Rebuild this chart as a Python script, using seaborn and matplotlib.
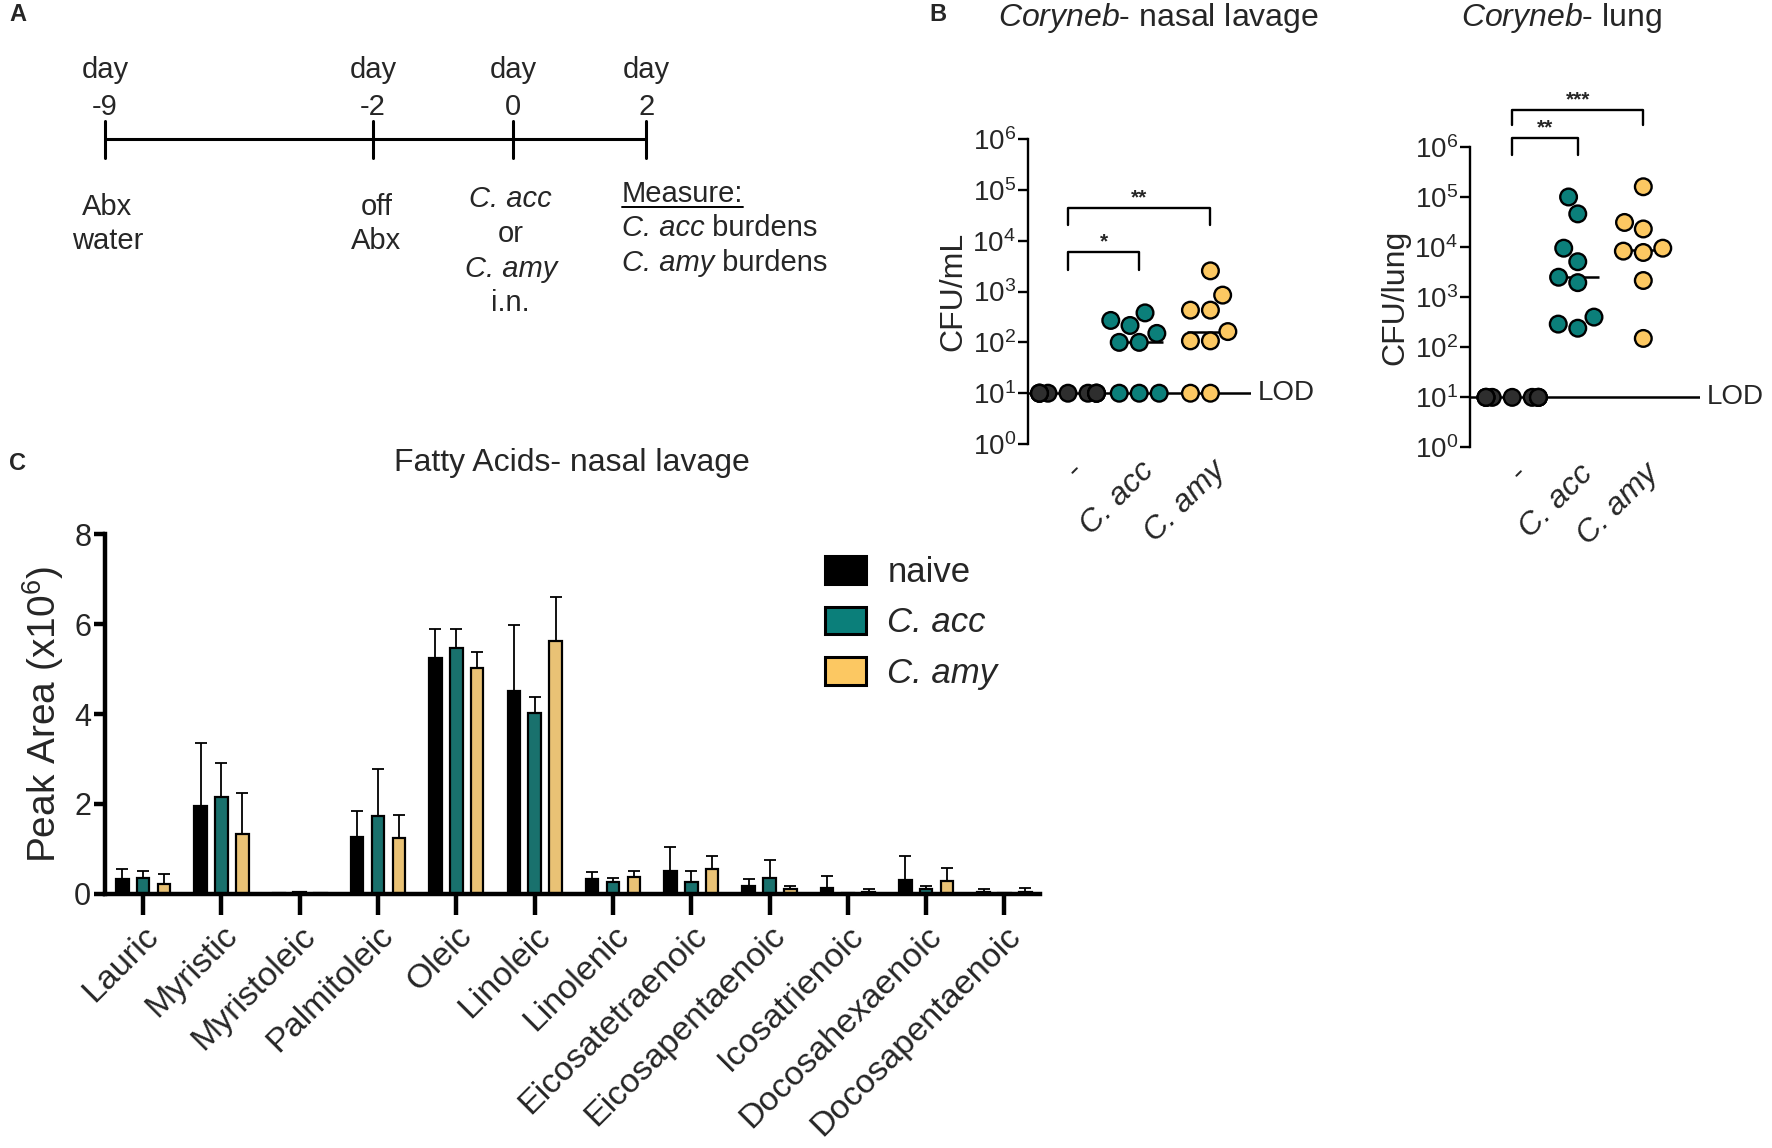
import matplotlib
matplotlib.use("Agg")
import matplotlib.pyplot as plt
import matplotlib.transforms as mtransforms
from matplotlib.patches import Patch
from matplotlib.ticker import LogLocator, NullLocator, FixedLocator
import seaborn as sns
import numpy as np
import pandas as pd

sns.set_theme(style="white")
plt.rcParams['font.family'] = ['Liberation Sans', 'DejaVu Sans']
plt.rcParams['mathtext.fontset'] = 'custom'
plt.rcParams['mathtext.rm'] = 'Liberation Sans'
plt.rcParams['mathtext.it'] = 'Liberation Sans:italic'
plt.rcParams['mathtext.bf'] = 'Liberation Sans:bold'
plt.rcParams['axes.unicode_minus'] = False

TEAL = '#0b7f7a'
GOLD = '#fcc862'
NAIVE_DOT = '#2e2e2e'

# ---- data: timeline (panel A) ----
timeline_days = ['-9', '-2', '0', '2']
timeline_below = [['Abx', 'water'],
                  ['off', 'Abx'],
                  ['C. acc', 'or', 'C. amy', 'i.n.']]
timeline_italic = [[False, False], [False, False], [True, False, True, False]]
measure_species = ['C. acc', 'C. amy']

# ---- data: CFU (panel B) ----
groups = ['naive', 'C. acc', 'C. amy']
group_ticklabels = ['-', 'C. acc', 'C. amy']
nasal_naive = [10, 10, 10, 10, 10, 10, 10, 10, 10]
nasal_acc = [10, 10, 10, 100, 100, 150, 215, 270, 380]
nasal_amy = [10, 10, 107, 107, 163, 430, 430, 850, 2550]
lung_naive = [10, 10, 10, 10, 10, 10, 10, 10, 10]
lung_acc = [240, 290, 400, 1950, 2500, 5100, 9500, 46000, 100000]
lung_amy = [150, 2150, 7800, 8300, 9500, 23000, 31000, 160000]
lod = 10

# ---- data: fatty acids (panel C), peak area x10^6, mean and SD ----
fatty_acids = ['Lauric', 'Myristic', 'Myristoleic', 'Palmitoleic', 'Oleic', 'Linoleic',
               'Linolenic', 'Eicosatetraenoic', 'Eicosapentaenoic', 'Icosatrienoic',
               'Docosahexaenoic', 'Docosapentaenoic']
fa_naive = [0.33, 1.96, 0.02, 1.27, 5.26, 4.51, 0.33, 0.51, 0.18, 0.13, 0.30, 0.03]
fa_naive_sd = [0.23, 1.40, 0.00, 0.57, 0.63, 1.47, 0.16, 0.53, 0.15, 0.26, 0.54, 0.07]
fa_acc = [0.35, 2.16, 0.04, 1.73, 5.48, 4.02, 0.27, 0.27, 0.36, 0.01, 0.10, 0.01]
fa_acc_sd = [0.15, 0.75, 0.00, 1.05, 0.42, 0.36, 0.09, 0.23, 0.40, 0.00, 0.08, 0.00]
fa_amy = [0.22, 1.33, 0.01, 1.24, 5.02, 5.62, 0.37, 0.56, 0.10, 0.05, 0.28, 0.04]
fa_amy_sd = [0.22, 0.91, 0.00, 0.52, 0.37, 0.98, 0.14, 0.29, 0.08, 0.06, 0.29, 0.08]
fa_labels = ['naive', 'C. acc', 'C. amy']

# layout is worked out in a 1568 x 1016 grid, then mapped to the figure
W, H = 1568.0, 1016.0


def box(left, top, right, bottom):
    return [left / W, 1 - bottom / H, (right - left) / W, (bottom - top) / H]


fig = plt.figure(figsize=(17.72, 11.48), dpi=100)
canvas = fig.add_axes([0, 0, 1, 1], zorder=-1)
canvas.set_xlim(0, W)
canvas.set_ylim(H, 0)
canvas.axis('off')

# panel letters
for letter, (px, py) in zip('ABC', [(8, 13), (822, 13), (8, 410)]):
    canvas.text(px, py, letter, fontsize=17, fontweight='bold', ha='left', va='center')

# ---- Panel A: timeline ----
tick_x = [93, 330, 454, 572]
line_y = 123
canvas.plot([tick_x[0], tick_x[-1]], [line_y, line_y], color='black', lw=2.2, solid_capstyle='butt')
for x, d in zip(tick_x, timeline_days):
    canvas.plot([x, x], [line_y - 16, line_y + 17], color='black', lw=2.2)
    canvas.text(x, 62, 'day', ha='center', va='center', fontsize=21)
    canvas.text(x, 95, d, ha='center', va='center', fontsize=21)
below_x = [95, 333, 452]
below_y = [[183, 213], [183, 213], [176, 207, 238, 268]]
for x, lines, ys, its in zip(below_x, timeline_below, below_y, timeline_italic):
    for s, y, it in zip(lines, ys, its):
        canvas.text(x, y, s, ha='center', va='center', fontsize=21,
                    fontstyle='italic' if it else 'normal')
measure_txt = canvas.text(550, 179, 'Measure:', ha='left', va='baseline', fontsize=21)
species_txt = []
for s, y in zip(measure_species, [209, 240]):
    species_txt.append(canvas.text(550, y, s, ha='left', va='baseline', fontsize=21,
                                   fontstyle='italic'))


# ---- Panel B: CFU plots ----
def cfu_panel(rect, values, ylabel, title, title_x, brackets, xlim):
    ax = fig.add_axes(rect)
    df = pd.DataFrame({
        'group': sum([[g] * len(v) for g, v in zip(groups, values)], []),
        'cfu': sum([list(v) for v in values], []),
    })
    ax.set_yscale('log')
    ax.axhline(lod, color='black', lw=1.8, zorder=1)
    sns.swarmplot(data=df, x='group', y='cfu', hue='group', order=groups, hue_order=groups,
                  palette={'naive': NAIVE_DOT, 'C. acc': TEAL, 'C. amy': GOLD},
                  size=12, linewidth=1.7, edgecolor='black', warn_thresh=1,
                  legend=False, zorder=3, ax=ax)
    for i, v in enumerate(values):
        if i > 0:
            ax.hlines(np.median(v), i - 0.33, i + 0.33, color='black', lw=1.8, zorder=2)
    ax.set_ylim(1, 1e6)
    ax.set_xlim(*xlim)
    ax.yaxis.set_major_locator(LogLocator(base=10, numticks=10))
    ax.yaxis.set_minor_locator(NullLocator())
    for sp in ['top', 'right', 'bottom']:
        ax.spines[sp].set_visible(False)
    ax.spines['left'].set_linewidth(1.7)
    ax.spines['left'].set_color('black')
    ax.tick_params(axis='y', direction='out', length=7, width=1.7, color='black',
                   labelsize=20, pad=2, left=True)
    ax.tick_params(axis='x', length=0, labelsize=23, pad=8)
    ax.set_xticks([0, 1, 2])
    ax.set_xticklabels(group_ticklabels, rotation=45, ha='right', va='top', rotation_mode='anchor')
    for t in ax.get_xticklabels()[1:]:
        t.set_fontstyle('italic')
    ax.set_xlabel('')
    ax.set_ylabel(ylabel, fontsize=23, labelpad=3)
    trans = mtransforms.blended_transform_factory(ax.transAxes, ax.transData)
    ax.text(1.03, lod, 'LOD', transform=trans, ha='left', va='center', fontsize=20)
    for x0, x1, top, leg, stars in brackets:
        ax.plot([x0, x0, x1, x1], [10 ** leg, 10 ** top, 10 ** top, 10 ** leg],
                color='black', lw=1.7, clip_on=False)
        ax.text((x0 + x1) / 2, 10 ** (top + 0.08), stars, ha='center', va='baseline',
                fontsize=15, fontweight='bold')
    canvas.text(title_x, 16, title, ha='center', va='center', fontsize=23)
    return ax


cfu_panel(box(910, 123, 1107, 393), [nasal_naive, nasal_acc, nasal_amy], 'CFU/mL',
          r'$\it{Coryneb}$- nasal lavage', 1025,
          [(0, 1, 3.78, 3.43, '*'), (0, 2, 4.65, 4.30, '**')], (-0.556, 2.57))
cfu_panel(box(1301, 130, 1504, 396), [lung_naive, lung_acc, lung_amy], 'CFU/lung',
          r'$\it{Coryneb}$- lung', 1382,
          [(0, 1, 6.18, 5.84, '**'), (0, 2, 6.74, 6.44, '***')], (-0.64, 2.86))

# ---- Panel C: fatty acids ----
axc = fig.add_axes(box(93, 473, 920, 791))
fa_df = pd.DataFrame({
    'acid': fatty_acids * 3,
    'group': [fa_labels[0]] * 12 + [fa_labels[1]] * 12 + [fa_labels[2]] * 12,
    'value': fa_naive + fa_acc + fa_amy,
})
colors = {'naive': 'black', 'C. acc': TEAL, 'C. amy': GOLD}
sns.barplot(data=fa_df, x='acid', y='value', hue='group', order=fatty_acids, hue_order=fa_labels,
            palette=colors, edgecolor='black', linewidth=1.6, width=0.8, gap=0.4,
            errorbar=None, legend=False, ax=axc, zorder=2)
for cont, sd in zip(axc.containers, [fa_naive_sd, fa_acc_sd, fa_amy_sd]):
    xs, ys, es = [], [], []
    for bar, e in zip(cont, sd):
        if e > 0:
            xs.append(bar.get_x() + bar.get_width() / 2)
            ys.append(bar.get_height())
            es.append(e)
    axc.errorbar(xs, ys, yerr=[np.zeros(len(es)), es], fmt='none', ecolor='black',
                 elinewidth=1.3, capsize=4.5, capthick=1.3, zorder=1)
axc.set_ylim(0, 8)
axc.set_xlim(-0.486, 11.45)
axc.yaxis.set_major_locator(FixedLocator([0, 2, 4, 6, 8]))
for sp in ['top', 'right']:
    axc.spines[sp].set_visible(False)
for sp in ['left', 'bottom']:
    axc.spines[sp].set_linewidth(3.2)
    axc.spines[sp].set_color('black')
axc.spines['bottom'].set_zorder(3)
axc.tick_params(axis='y', direction='out', length=8, width=3.2, color='black', labelsize=22, pad=2, left=True)
axc.tick_params(axis='x', direction='out', length=15, width=3.2, color='black', labelsize=24.5, pad=4, bottom=True)
axc.set_xticks(range(len(fatty_acids)))
axc.set_xticklabels(fatty_acids, rotation=45, ha='right', va='top', rotation_mode='anchor')
axc.set_xlabel('')
axc.set_ylabel(r'Peak Area (x10$^{6}$)', fontsize=28, labelpad=6)
canvas.text(506, 410, 'Fatty Acids- nasal lavage', ha='center', va='center', fontsize=23)

handles = [Patch(facecolor=colors[g], edgecolor='black', linewidth=2.2) for g in fa_labels]
leg = axc.legend(handles, fa_labels, loc='upper left', bbox_to_anchor=(0.77, 0.94),
                 frameon=False, fontsize=25, handlelength=1.2, handleheight=0.85,
                 handletextpad=0.6, labelspacing=0.5, borderpad=0, borderaxespad=0)
for t in leg.get_texts()[1:]:
    t.set_fontstyle('italic')

# underline for "Measure:" and the upright " burdens" after the italic names
fig.canvas.draw()
inv = canvas.transData.inverted()
bb = measure_txt.get_window_extent()
(x0, y0), (x1, y1) = inv.transform([[bb.x0, bb.y0], [bb.x1, bb.y0]])
canvas.plot([x0, x1], [y0 - 1, y1 - 1], color='black', lw=1.4)
for t in species_txt:
    bb = t.get_window_extent()
    xe = inv.transform([[bb.x1, bb.y0]])[0][0]
    canvas.text(xe, t.get_position()[1], ' burdens', ha='left', va='baseline', fontsize=21)

fig.savefig('out.png', dpi=100)
